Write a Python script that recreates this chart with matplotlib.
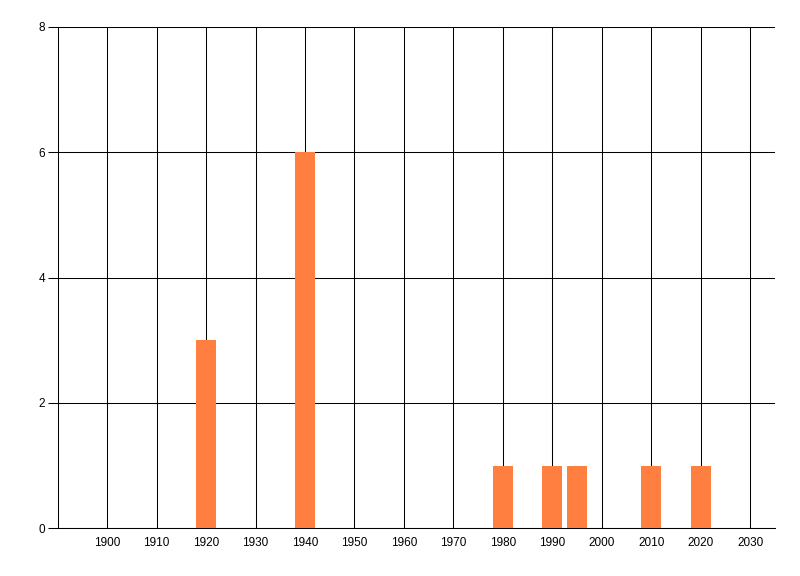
import matplotlib
matplotlib.use('Agg')
import matplotlib.pyplot as plt

# Data
years = [1920, 1940, 1980, 1990, 1995, 2010, 2020]
counts = [3, 6, 1, 1, 1, 1, 1]
x_ticks = list(range(1900, 2031, 10))
y_ticks = [0, 2, 4, 6, 8]

plt.rcParams['font.family'] = ['Liberation Sans', 'DejaVu Sans']

fig = plt.figure(figsize=(8, 5.76), dpi=100)
ax = fig.add_axes([0.0721, 0.0828, 0.8966, 0.8708])

ax.bar(years, counts, width=4, color='#FF7F40', zorder=3)

ax.set_xlim(1890, 2035)
ax.set_ylim(0, 8)
ax.set_xticks(x_ticks)
ax.set_yticks(y_ticks)
ax.grid(True, color='black', linewidth=0.75, zorder=1)
ax.set_axisbelow(True)

for side in ['top', 'right']:
    ax.spines[side].set_visible(False)
for side in ['left', 'bottom']:
    ax.spines[side].set_linewidth(0.75)

ax.tick_params(axis='x', length=0, pad=6, labelsize=8.5)
ax.tick_params(axis='y', length=7, width=0.75, pad=2, labelsize=8.5)

fig.savefig('out.png', dpi=100)
